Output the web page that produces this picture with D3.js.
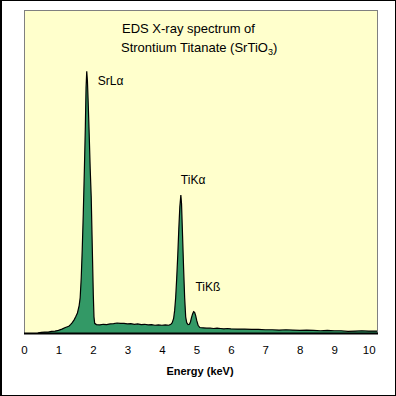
<!DOCTYPE html>
<html>
<head>
<meta charset="utf-8">
<script src="https://cdn.jsdelivr.net/npm/d3@7"></script>
<style>
  body { margin: 0; background: #fff; }
  svg { display: block; font-family: Arial, "Liberation Sans", sans-serif; }
</style>
</head>
<body>
<svg id="chart" width="396" height="396"></svg>
<script>
// spectrum (keV, % of full scale)
var energy = [0.40, 0.50, 0.60, 0.70, 0.80, 0.90, 1.00, 1.10, 1.20, 1.30, 1.35, 1.40, 1.45, 1.50, 1.55,
  1.60, 1.63, 1.66, 1.69, 1.72, 1.75, 1.78, 1.80, 1.82, 1.84, 1.86, 1.89, 1.92, 1.95, 1.97, 1.99,
  2.01, 2.03, 2.05, 2.10, 2.20, 2.30, 2.40, 2.50, 2.60, 2.70, 2.80, 2.90, 3.00, 3.10, 3.20, 3.30,
  3.40, 3.50, 3.60, 3.70, 3.80, 3.90, 4.00, 4.10, 4.20, 4.26, 4.30, 4.34, 4.37, 4.40, 4.43, 4.46,
  4.49, 4.52, 4.55, 4.57, 4.60, 4.63, 4.66, 4.69, 4.72, 4.76, 4.80, 4.83, 4.86, 4.89, 4.92, 4.95,
  4.98, 5.01, 5.05, 5.10, 5.20, 5.30, 5.40, 5.50, 5.60, 5.70, 5.80, 5.90, 6.00, 6.20, 6.40, 6.60,
  6.80, 7.00, 7.20, 7.40, 7.60, 7.80, 8.00, 8.20, 8.40, 8.60, 8.80, 9.00, 9.20, 9.40, 9.60, 9.80,
  10.00, 10.24];
var counts = [0, 0.2, 0.3, 0.3, 0.5, 0.6, 0.8, 1.2, 1.7, 2.1, 2.6, 3.2, 4.0, 5.0, 6.2,
  8.5, 11, 17, 26, 37, 50, 64, 76, 81, 78, 72, 62, 51, 42, 32, 22,
  12, 5, 3.0, 2.6, 2.5, 2.7, 2.6, 2.8, 2.9, 3.1, 3.0, 3.0, 2.8, 2.9, 2.7, 2.8,
  2.6, 2.7, 2.5, 2.6, 2.4, 2.5, 2.4, 2.5, 2.4, 2.7, 3.2, 4.5, 7, 11, 17, 24,
  32, 39, 42.7, 40, 30, 20, 11, 5, 3.2, 2.6, 2.7, 3.5, 4.8, 5.9, 6.6, 6.4,
  5.4, 3.9, 2.4, 1.7, 1.6, 1.5, 1.5, 1.4, 1.5, 1.4, 1.3, 1.4, 1.3, 1.2, 1.2, 1.1,
  1.1, 1.0, 1.0, 0.9, 1.0, 0.9, 0.8, 0.9, 0.8, 0.7, 0.8, 0.7, 0.7, 0.5, 0.6, 0.7,
  0.6, 0.6];

var xTicks = [0, 1, 2, 3, 4, 5, 6, 7, 8, 9, 10];
var titleLines = ["EDS X-ray spectrum of", "Strontium Titanate (SrTi"];
var peakNames = ["SrL\u03b1", "TiK\u03b1", "TiK\u00df"];
var peakEnergy = [1.82, 4.55, 4.93];
var peakLevel = [81, 42.7, 6.6];

var svg = d3.select('#chart');
var plotLeft = 24, plotRight = 377, plotTop = 10, plotBottom = 333;

var x = d3.scaleLinear().domain([0, 10.24]).range([plotLeft, plotRight]);
var y = d3.scaleLinear().domain([0, 100]).range([plotBottom, plotTop]);

var data = energy.map(function (e, i) { return { e: e, c: counts[i] }; });

// outer frame
svg.append('rect')
  .attr('x', 0.5).attr('y', 0.5)
  .attr('width', 395).attr('height', 395)
  .attr('fill', '#fff').attr('stroke', '#000');
svg.append('line')
  .attr('x1', 1.5).attr('x2', 1.5).attr('y1', 0).attr('y2', 396)
  .attr('stroke', '#000');

// plot area
svg.append('rect')
  .attr('x', plotLeft + 0.5).attr('y', plotTop + 0.5)
  .attr('width', plotRight - plotLeft).attr('height', plotBottom - plotTop)
  .attr('fill', '#ffffcc').attr('stroke', '#808080');

var area = d3.area()
  .x(function (d) { return x(d.e); })
  .y0(y(0))
  .y1(function (d) { return y(d.c); });

var line = d3.line()
  .x(function (d) { return x(d.e); })
  .y(function (d) { return y(d.c); });

svg.append('path')
  .datum(data)
  .attr('d', area)
  .attr('fill', '#339966');

svg.append('path')
  .datum(data)
  .attr('d', line)
  .attr('fill', 'none')
  .attr('stroke', '#000')
  .attr('stroke-width', 1.2);

// x axis, labels only
var xAxis = d3.axisBottom(x).tickValues(xTicks).tickSize(0).tickPadding(0);
var g = svg.append('g')
  .attr('transform', 'translate(0,' + plotBottom + ')')
  .call(xAxis);
g.select('.domain')
  .attr('d', 'M' + plotLeft + ',0.5H' + (plotRight + 1))
  .attr('stroke', '#000').attr('stroke-width', 2);
g.selectAll('.tick text')
  .attr('y', 21)
  .attr('dy', null)
  .style('font-family', 'Arial, "Liberation Sans", sans-serif')
  .style('font-size', '11.5px')
  .attr('fill', '#000');

svg.append('text')
  .attr('x', 200).attr('y', 375)
  .attr('text-anchor', 'middle')
  .style('font-size', '11px')
  .style('font-weight', 'bold')
  .text('Energy (keV)');

// title
svg.append('text')
  .attr('x', 122).attr('y', 33)
  .style('font-size', '13px')
  .text(titleLines[0]);
var t2 = svg.append('text')
  .attr('x', 121).attr('y', 52)
  .style('font-size', '13px');
t2.append('tspan').text(titleLines[1]);
t2.append('tspan').text('O');
t2.append('tspan').attr('dy', 3).style('font-size', '9px').text('3');
t2.append('tspan').attr('dy', -3).text(')');

// peak labels
var labelDx = [11, 0, 1.5];
var labelDy = [14, -11, -21];
svg.selectAll('text.peak')
  .data(peakNames)
  .enter().append('text')
  .attr('class', 'peak')
  .attr('x', function (d, i) { return x(peakEnergy[i]) + labelDx[i]; })
  .attr('y', function (d, i) { return y(peakLevel[i]) + labelDy[i]; })
  .style('font-size', '12px')
  .text(function (d) { return d; });
</script>
</body>
</html>
